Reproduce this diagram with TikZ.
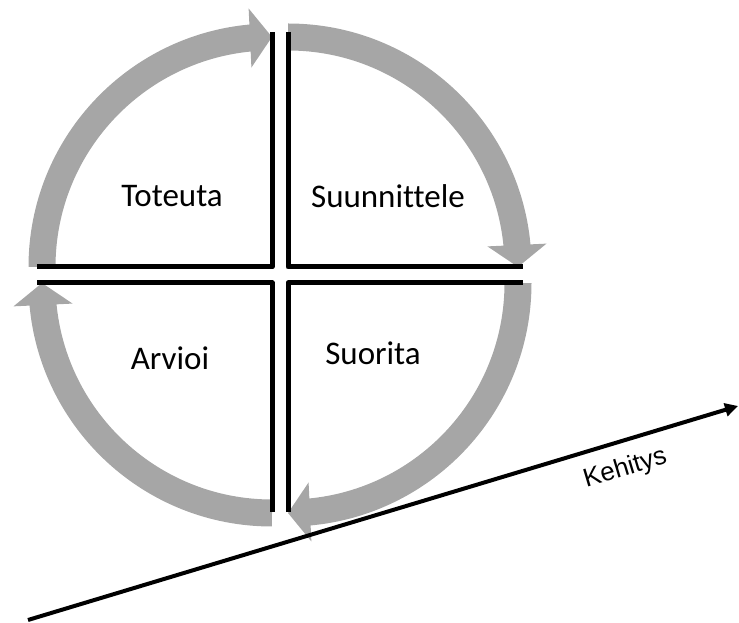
\documentclass[tikz,border=0pt]{standalone}
\usepackage{fontspec}
\setmainfont{Carlito}[Ligatures=NoCommon]
\newfontfamily\kehfont{Liberation Sans}
\usetikzlibrary{arrows.meta,bending}
\definecolor{cyclegray}{HTML}{A6A6A6}

\begin{document}
\begin{tikzpicture}[x=1pt, y=1pt,
    cyclearc/.style={draw=cyclegray, line width=27pt, -{Triangle[length=22pt,width=58pt]}},
    quadline/.style={draw=black, line width=5pt, line join=round},
    every node/.style={font=\fontsize{33}{38}\selectfont}]
  \useasboundingbox (0,0) rectangle (739,623);
  % corners of the four quadrants
  \coordinate (tl) at (272,356);
  \coordinate (tr) at (288,356);
  \coordinate (br) at (288,340);
  \coordinate (bl) at (272,340);
  % gray cycle arrows
  \draw[cyclearc] (tl) ++(180:230pt) arc[start angle=180, end angle=90, radius=230pt];
  \draw[cyclearc] (tr) ++(90:230pt) arc[start angle=90, end angle=0, radius=230pt];
  \draw[cyclearc] (br) ++(0:230pt) arc[start angle=0, end angle=-90, radius=230pt];
  \draw[cyclearc] (bl) ++(-90:230pt) arc[start angle=-90, end angle=-180, radius=230pt];
  % quadrant edges
  \draw[quadline] ([xshift=-235pt]tl) -- (tl) -- ([yshift=235pt]tl);
  \draw[quadline] ([yshift=235pt]tr) -- (tr) -- ([xshift=235pt]tr);
  \draw[quadline] ([xshift=235pt]br) -- (br) -- ([yshift=-229pt]br);
  \draw[quadline] ([yshift=-229pt]bl) -- (bl) -- ([xshift=-235pt]bl);
  % labels
  \node (toteuta) at (172,427) {Toteuta};
  \node (suunnittele) at (388,427) {Suunnittele};
  \node (arvioi) at (170,265) {Arvioi};
  \node (suorita) at (373,270) {Suorita};
  % development axis
  \coordinate (kstart) at (28,3);
  \coordinate (kend) at (738,217);
  \draw[line width=4pt, -{Triangle[length=13pt,width=13pt]}] (kstart) -- (kend)
    node[pos=0.83, sloped, below=10pt, font=\kehfont\fontsize{26}{30}\selectfont] (kehitys) {Kehitys};
\end{tikzpicture}
\end{document}
